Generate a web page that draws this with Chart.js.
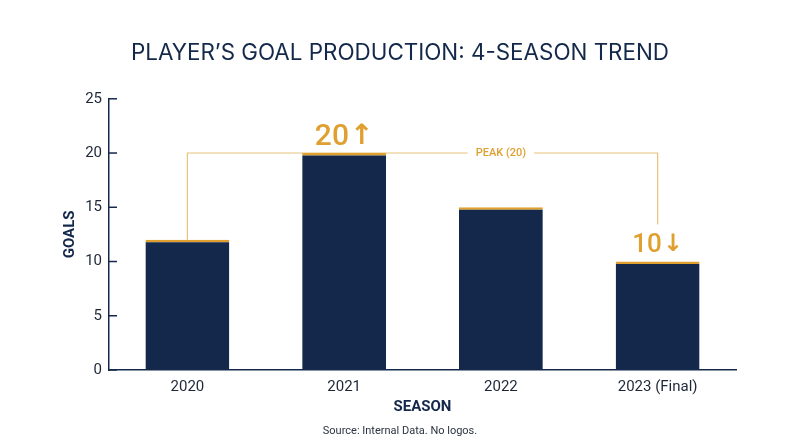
<!DOCTYPE html>
<html>
<head>
<meta charset="utf-8">
<script src="https://cdn.jsdelivr.net/npm/chart.js@4.4.1/dist/chart.umd.min.js"></script>
<style>
  html, body { margin: 0; padding: 0; background: #fff; }
  #wrap { width: 800px; height: 447px; }
</style>
</head>
<body>
<div id="wrap"><canvas id="goalsChart"></canvas></div>
<script>
const seasons = ['2020', '2021', '2022', '2023 (Final)'];
const goals = [12, 20, 15, 10];
const yTicks = [0, 5, 10, 15, 20, 25];

const NAVY = '#13284a';
const GOLD = '#e0a030';
const GOLD_LIGHT = '#e8c27a';
const TEXT = '#1d2738';
const FONT = 'Roboto, "Noto Sans", sans-serif';

const peakIdx = goals.indexOf(Math.max(...goals));
const lastIdx = goals.length - 1;

// short tick marks on the inside of the y axis
const yTickMarks = {
    id: 'yTickMarks',
    afterDraw(chart) {
        const { ctx, scales: { y } } = chart;
        ctx.save();
        ctx.strokeStyle = NAVY;
        ctx.lineWidth = 1.5;
        yTicks.forEach(v => {
            const py = y.getPixelForValue(v);
            ctx.beginPath();
            ctx.moveTo(y.right, py);
            ctx.lineTo(y.right + 8, py);
            ctx.stroke();
        });
        ctx.restore();
    }
};

// number + arrow, centred over a bar
function callout(ctx, num, arrow, cx, base, size) {
    ctx.font = '500 ' + size + 'px ' + FONT;
    const wNum = ctx.measureText(num).width;
    ctx.font = 'bold ' + Math.round(size * 0.92) + 'px "DejaVu Sans"';
    const wArr = ctx.measureText(arrow).width;
    const gap = 1;
    const left = cx - (wNum + gap + wArr) / 2;
    ctx.textAlign = 'left';
    ctx.fillText(arrow, left + wNum + gap, base - 1);
    ctx.font = '500 ' + size + 'px ' + FONT;
    ctx.fillText(num, left, base);
}

// peak bracket + value callouts
const peakBracket = {
    id: 'peakBracket',
    beforeDatasetsDraw(chart) {
        const { ctx, scales: { x, y } } = chart;
        const xa = x.getPixelForValue(0);
        const xb = x.getPixelForValue(lastIdx);
        const yPeak = y.getPixelForValue(goals[peakIdx]);
        ctx.save();
        ctx.strokeStyle = GOLD_LIGHT;
        ctx.lineWidth = 1.2;
        ctx.beginPath();
        ctx.moveTo(xa, y.getPixelForValue(goals[0]));
        ctx.lineTo(xa, yPeak);
        ctx.lineTo(xb, yPeak);
        ctx.lineTo(xb, y.getPixelForValue(goals[lastIdx]) - 37);
        ctx.stroke();

        const label = 'PEAK (' + goals[peakIdx] + ')';
        ctx.font = '500 11px ' + FONT;
        const w = ctx.measureText(label).width;
        const cx = (x.getPixelForValue(peakIdx) + xb) / 2;
        ctx.fillStyle = '#fff';
        ctx.fillRect(cx - w / 2 - 8, yPeak - 6, w + 16, 12);
        ctx.fillStyle = GOLD;
        ctx.textAlign = 'center';
        ctx.textBaseline = 'middle';
        ctx.fillText(label, cx, yPeak + 0.5);
        ctx.restore();
    },
    afterDatasetsDraw(chart) {
        const { ctx } = chart;
        const bars = chart.getDatasetMeta(0).data;
        ctx.save();
        ctx.fillStyle = GOLD;
        ctx.textBaseline = 'alphabetic';
        callout(ctx, String(goals[peakIdx]), '\u2191', bars[peakIdx].x, bars[peakIdx].y - 8, 30);
        callout(ctx, String(goals[lastIdx]), '\u2193', bars[lastIdx].x, bars[lastIdx].y - 10, 26);
        ctx.restore();
    }
};

new Chart(document.getElementById('goalsChart'), {
    type: 'bar',
    data: {
        labels: seasons,
        datasets: [{
            data: goals,
            backgroundColor: NAVY,
            borderColor: GOLD,
            borderWidth: { top: 2.5, right: 0, bottom: 0, left: 0 },
            barPercentage: 0.535,
            categoryPercentage: 1
        }]
    },
    options: {
        responsive: true,
        maintainAspectRatio: false,
        animation: false,
        layout: { padding: 0 },
        plugins: {
            legend: { display: false },
            tooltip: { enabled: false },
            title: {
                display: true,
                text: 'PLAYER\u2019S GOAL PRODUCTION: 4-SEASON TREND',
                color: NAVY,
                font: { family: 'Inter, Roboto, sans-serif', size: 22.4, weight: '400' },
                padding: { top: 40, bottom: 31.9 }
            },
            subtitle: {
                display: true,
                position: 'bottom',
                text: 'Source: Internal Data. No logos.',
                color: '#2b3442',
                font: { family: FONT, size: 11, weight: '400' },
                padding: { top: 4, bottom: 9.4 }
            }
        },
        scales: {
            x: {
                grid: { display: false, drawTicks: false },
                border: { display: true, color: NAVY, width: 1.5 },
                ticks: { color: TEXT, font: { family: FONT, size: 15 }, padding: 8 },
                title: {
                    display: true,
                    text: 'SEASON',
                    color: NAVY,
                    font: { family: FONT, size: 15, weight: 'bold' },
                    padding: { top: 0, bottom: 4.2 }
                },
                afterFit(s) { s.height = 50.4; }
            },
            y: {
                min: 0,
                max: 25,
                grid: { display: false, drawTicks: false },
                border: { display: true, color: NAVY, width: 1.5 },
                ticks: { color: TEXT, font: { family: FONT, size: 15 }, padding: 7 },
                afterBuildTicks(s) { s.ticks = yTicks.map(v => ({ value: v })); },
                title: {
                    display: true,
                    text: 'GOALS',
                    color: NAVY,
                    font: { family: FONT, size: 15, weight: 'bold' },
                    padding: { top: 61, bottom: 0 }
                },
                afterFit(s) { s.width = 109; }
            },
            // empty right-hand spacer so the title stays centred on the page
            spacer: {
                position: 'right',
                grid: { display: false, drawTicks: false },
                border: { display: false },
                ticks: { display: false },
                afterFit(s) { s.width = 64; }
            }
        }
    },
    plugins: [yTickMarks, peakBracket]
});
</script>
</body>
</html>
